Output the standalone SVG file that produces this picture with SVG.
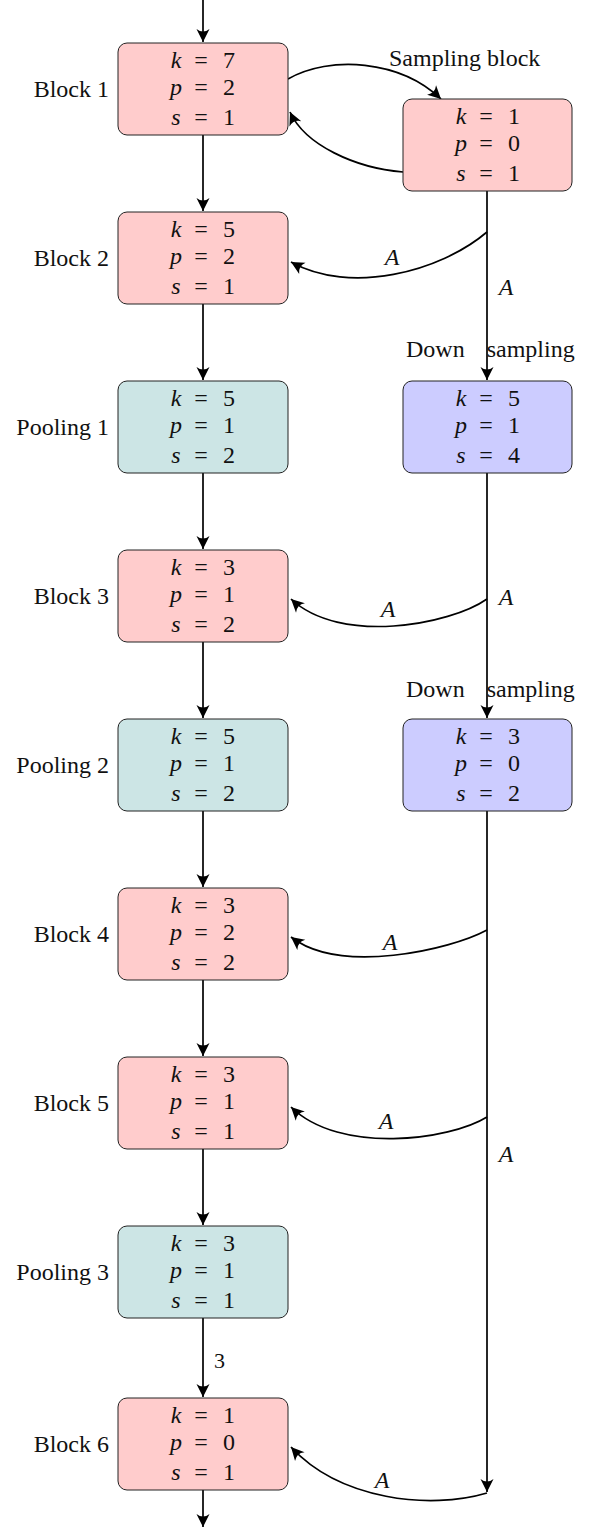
<svg xmlns="http://www.w3.org/2000/svg" width="591" height="1527" viewBox="0 0 591 1527">
<style>
.r{fill:#ffcccc;stroke:#222;stroke-width:1}
.t{fill:#cce5e5;stroke:#222;stroke-width:1}
.b{fill:#ccccff;stroke:#222;stroke-width:1}
text{font-family:"Liberation Serif","Times New Roman",serif;fill:#111}
.v{font-size:24px;text-anchor:middle}
.i{font-style:italic}
.lbl{font-size:24px;text-anchor:end}
.a{font-size:24px;font-style:italic;text-anchor:middle}
.c{fill:none;stroke:#000;stroke-width:1.7;marker-end:url(#ah)}
</style>
<defs>
<marker id="ah" markerUnits="userSpaceOnUse" viewBox="-15 -8 16 16" refX="0" refY="0" markerWidth="16" markerHeight="16" orient="auto">
<path d="M0,0 L-13,-6.5 Q-8,0 -13,6.5 Z" fill="#000"/>
</marker>
</defs>

<g id="connectors">
<path class="c" d="M203,0 L203,42"/>
<path class="c" d="M203,135 L203,211"/>
<path class="c" d="M203,304 L203,380"/>
<path class="c" d="M203,473 L203,549"/>
<path class="c" d="M203,642 L203,718"/>
<path class="c" d="M203,811 L203,887"/>
<path class="c" d="M203,980 L203,1056"/>
<path class="c" d="M203,1149 L203,1225"/>
<path class="c" d="M203,1318 L203,1397"/>
<path class="c" d="M203,1490 L203,1527"/>
<path class="c" d="M288,79 C330,55 400,60 441,99"/>
<path class="c" d="M403,172 C355,168 305,145 290,112"/>
<path class="c" d="M487,191 L487,380"/>
<path class="c" d="M487,232 C440,272 350,295 291,262"/>
<path class="c" d="M487,473 L487,718"/>
<path class="c" d="M487,599 C450,625 340,645 291,599"/>
<path class="c" d="M487,811 L487,1492"/>
<path class="c" d="M487,930 C450,950 340,975 291,937"/>
<path class="c" d="M487,1117 C450,1140 340,1155 291,1107"/>
<path class="c" d="M487,1493 C430,1510 340,1500 291,1447"/>
<text class="a" x="392" y="265">A</text>
<text class="a" x="506" y="295">A</text>
<text class="a" x="388" y="617">A</text>
<text class="a" x="506" y="605">A</text>
<text class="a" x="390" y="950">A</text>
<text class="a" x="386" y="1129">A</text>
<text class="a" x="506" y="1162">A</text>
<text class="a" x="382" y="1488">A</text>
<text x="214" y="1368" style="font-size:22px">3</text>
</g>

<g id="block1">
<rect class="r" x="118" y="43" width="170" height="92" rx="9"/>
<text class="lbl" x="109" y="97">Block 1</text>
<text class="v" y="68"><tspan class="i" x="176">k</tspan><tspan x="201">=</tspan><tspan x="229">7</tspan></text>
<text class="v" y="95"><tspan class="i" x="176">p</tspan><tspan x="201">=</tspan><tspan x="229">2</tspan></text>
<text class="v" y="125"><tspan class="i" x="176">s</tspan><tspan x="201">=</tspan><tspan x="229">1</tspan></text>
</g>

<g id="block2">
<rect class="r" x="118" y="212" width="170" height="92" rx="9"/>
<text class="lbl" x="109" y="266">Block 2</text>
<text class="v" y="237"><tspan class="i" x="176">k</tspan><tspan x="201">=</tspan><tspan x="229">5</tspan></text>
<text class="v" y="264"><tspan class="i" x="176">p</tspan><tspan x="201">=</tspan><tspan x="229">2</tspan></text>
<text class="v" y="294"><tspan class="i" x="176">s</tspan><tspan x="201">=</tspan><tspan x="229">1</tspan></text>
</g>

<g id="pooling1">
<rect class="t" x="118" y="381" width="170" height="92" rx="9"/>
<text class="lbl" x="109" y="435">Pooling 1</text>
<text class="v" y="406"><tspan class="i" x="176">k</tspan><tspan x="201">=</tspan><tspan x="229">5</tspan></text>
<text class="v" y="433"><tspan class="i" x="176">p</tspan><tspan x="201">=</tspan><tspan x="229">1</tspan></text>
<text class="v" y="463"><tspan class="i" x="176">s</tspan><tspan x="201">=</tspan><tspan x="229">2</tspan></text>
</g>

<g id="block3">
<rect class="r" x="118" y="550" width="170" height="92" rx="9"/>
<text class="lbl" x="109" y="604">Block 3</text>
<text class="v" y="575"><tspan class="i" x="176">k</tspan><tspan x="201">=</tspan><tspan x="229">3</tspan></text>
<text class="v" y="602"><tspan class="i" x="176">p</tspan><tspan x="201">=</tspan><tspan x="229">1</tspan></text>
<text class="v" y="632"><tspan class="i" x="176">s</tspan><tspan x="201">=</tspan><tspan x="229">2</tspan></text>
</g>

<g id="pooling2">
<rect class="t" x="118" y="719" width="170" height="92" rx="9"/>
<text class="lbl" x="109" y="773">Pooling 2</text>
<text class="v" y="744"><tspan class="i" x="176">k</tspan><tspan x="201">=</tspan><tspan x="229">5</tspan></text>
<text class="v" y="771"><tspan class="i" x="176">p</tspan><tspan x="201">=</tspan><tspan x="229">1</tspan></text>
<text class="v" y="801"><tspan class="i" x="176">s</tspan><tspan x="201">=</tspan><tspan x="229">2</tspan></text>
</g>

<g id="block4">
<rect class="r" x="118" y="888" width="170" height="92" rx="9"/>
<text class="lbl" x="109" y="942">Block 4</text>
<text class="v" y="913"><tspan class="i" x="176">k</tspan><tspan x="201">=</tspan><tspan x="229">3</tspan></text>
<text class="v" y="940"><tspan class="i" x="176">p</tspan><tspan x="201">=</tspan><tspan x="229">2</tspan></text>
<text class="v" y="970"><tspan class="i" x="176">s</tspan><tspan x="201">=</tspan><tspan x="229">2</tspan></text>
</g>

<g id="block5">
<rect class="r" x="118" y="1057" width="170" height="92" rx="9"/>
<text class="lbl" x="109" y="1111">Block 5</text>
<text class="v" y="1082"><tspan class="i" x="176">k</tspan><tspan x="201">=</tspan><tspan x="229">3</tspan></text>
<text class="v" y="1109"><tspan class="i" x="176">p</tspan><tspan x="201">=</tspan><tspan x="229">1</tspan></text>
<text class="v" y="1139"><tspan class="i" x="176">s</tspan><tspan x="201">=</tspan><tspan x="229">1</tspan></text>
</g>

<g id="pooling3">
<rect class="t" x="118" y="1226" width="170" height="92" rx="9"/>
<text class="lbl" x="109" y="1280">Pooling 3</text>
<text class="v" y="1251"><tspan class="i" x="176">k</tspan><tspan x="201">=</tspan><tspan x="229">3</tspan></text>
<text class="v" y="1278"><tspan class="i" x="176">p</tspan><tspan x="201">=</tspan><tspan x="229">1</tspan></text>
<text class="v" y="1308"><tspan class="i" x="176">s</tspan><tspan x="201">=</tspan><tspan x="229">1</tspan></text>
</g>

<g id="block6">
<rect class="r" x="118" y="1398" width="170" height="92" rx="9"/>
<text class="lbl" x="109" y="1452">Block 6</text>
<text class="v" y="1423"><tspan class="i" x="176">k</tspan><tspan x="201">=</tspan><tspan x="229">1</tspan></text>
<text class="v" y="1450"><tspan class="i" x="176">p</tspan><tspan x="201">=</tspan><tspan x="229">0</tspan></text>
<text class="v" y="1480"><tspan class="i" x="176">s</tspan><tspan x="201">=</tspan><tspan x="229">1</tspan></text>
</g>

<g id="sampling">
<rect class="r" x="403" y="99" width="169" height="92" rx="9"/>
<text x="389" y="66" style="font-size:24px">Sampling block</text>
<text class="v" y="124"><tspan class="i" x="461">k</tspan><tspan x="486">=</tspan><tspan x="514">1</tspan></text>
<text class="v" y="151"><tspan class="i" x="461">p</tspan><tspan x="486">=</tspan><tspan x="514">0</tspan></text>
<text class="v" y="181"><tspan class="i" x="461">s</tspan><tspan x="486">=</tspan><tspan x="514">1</tspan></text>
</g>

<g id="downsampling1">
<rect class="b" x="403" y="381" width="169" height="92" rx="9"/>
<text x="406" y="357" style="font-size:24px;word-spacing:16px">Down sampling</text>
<text class="v" y="406"><tspan class="i" x="461">k</tspan><tspan x="486">=</tspan><tspan x="514">5</tspan></text>
<text class="v" y="433"><tspan class="i" x="461">p</tspan><tspan x="486">=</tspan><tspan x="514">1</tspan></text>
<text class="v" y="463"><tspan class="i" x="461">s</tspan><tspan x="486">=</tspan><tspan x="514">4</tspan></text>
</g>

<g id="downsampling2">
<rect class="b" x="403" y="719" width="169" height="92" rx="9"/>
<text x="406" y="697" style="font-size:24px;word-spacing:16px">Down sampling</text>
<text class="v" y="744"><tspan class="i" x="461">k</tspan><tspan x="486">=</tspan><tspan x="514">3</tspan></text>
<text class="v" y="771"><tspan class="i" x="461">p</tspan><tspan x="486">=</tspan><tspan x="514">0</tspan></text>
<text class="v" y="801"><tspan class="i" x="461">s</tspan><tspan x="486">=</tspan><tspan x="514">2</tspan></text>
</g>
</svg>
